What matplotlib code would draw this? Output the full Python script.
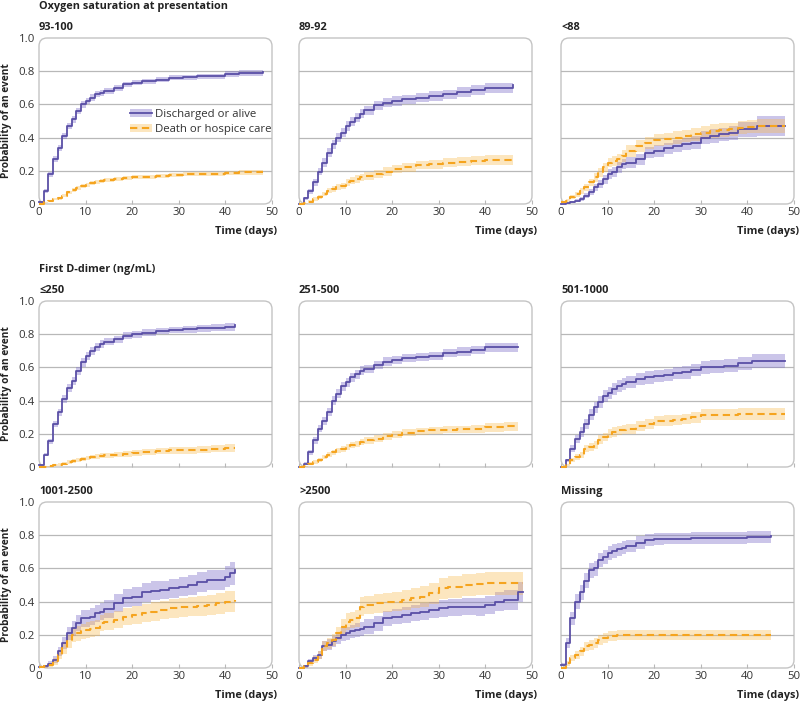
import matplotlib
matplotlib.use("Agg")
from matplotlib import pyplot as plt
from matplotlib.patches import FancyBboxPatch, Patch
from matplotlib.lines import Line2D

plt.rcParams['font.family'] = ['Open Sans', 'DejaVu Sans']

# Colours
PURPLE = "#5a4fa6"
PURPLE_BAND = "#7d70c9"
ORANGE = "#f5a41f"
ORANGE_BAND = "#f9b84a"
GRID = "#b8b8b8"
FRAME = "#c4c4c4"
TEXT = "#333333"
DARK = "#222222"

GROUP_TITLES = ["Oxygen saturation at presentation", "First D-dimer (ng/mL)"]
PANEL_TITLES = ["93-100", "89-92", "<88",
                "≤250", "251-500", "501-1000",
                "1001-2500", ">2500", "Missing"]
LEGEND_LABELS = ["Discharged or alive", "Death or hospice care"]
X_TICKS = [0, 10, 20, 30, 40, 50]
Y_TICKS = [0, 0.2, 0.4, 0.6, 0.8, 1.0]
Y_TICK_LABELS = ["0", "0.2", "0.4", "0.6", "0.8", "1.0"]

# ---- Oxygen 93-100
T_O2_HIGH = [0, 1, 2, 3, 4, 5, 6, 7, 8, 9, 10, 11, 12, 13, 14, 16, 18, 20, 22, 25, 28, 31, 34, 37, 40, 43, 48]
DIS_O2_HIGH = [0.01, 0.08, 0.18, 0.27, 0.34, 0.41, 0.47, 0.51, 0.56, 0.60, 0.62, 0.64, 0.66, 0.67, 0.68,
               0.70, 0.72, 0.73, 0.74, 0.75, 0.76, 0.765, 0.77, 0.77, 0.785, 0.79, 0.795]
DIS_O2_HIGH_CI = [0.005, 0.012, 0.015, 0.018, 0.018, 0.02, 0.02, 0.02, 0.02, 0.02, 0.02, 0.02, 0.018, 0.018, 0.018,
                  0.017, 0.016, 0.015, 0.015, 0.015, 0.015, 0.015, 0.015, 0.015, 0.017, 0.018, 0.018]
DEATH_O2_HIGH = [0, 0.01, 0.02, 0.03, 0.035, 0.05, 0.07, 0.085, 0.095, 0.11, 0.115, 0.125, 0.135, 0.14, 0.145,
                 0.152, 0.158, 0.16, 0.165, 0.17, 0.175, 0.178, 0.18, 0.182, 0.186, 0.19, 0.195]
DEATH_O2_HIGH_CI = [0, 0.005, 0.006, 0.008, 0.008, 0.01, 0.01, 0.01, 0.011, 0.011, 0.012, 0.012, 0.012, 0.012, 0.012,
                    0.012, 0.012, 0.012, 0.012, 0.012, 0.012, 0.012, 0.012, 0.012, 0.012, 0.013, 0.013]

# ---- Oxygen 89-92
T_O2_MID = [0, 1, 2, 3, 4, 5, 6, 7, 8, 9, 10, 11, 12, 13, 14, 16, 18, 20, 22, 25, 28, 31, 34, 37, 40, 43, 46]
DIS_O2_MID = [0, 0.035, 0.078, 0.13, 0.195, 0.25, 0.31, 0.36, 0.40, 0.43, 0.47, 0.495, 0.52, 0.545, 0.565,
              0.595, 0.61, 0.62, 0.63, 0.64, 0.65, 0.66, 0.675, 0.685, 0.70, 0.70, 0.715]
DIS_O2_MID_CI = [0, 0.01, 0.015, 0.02, 0.022, 0.025, 0.025, 0.027, 0.027, 0.028, 0.028, 0.028, 0.028, 0.028, 0.028,
                 0.028, 0.028, 0.028, 0.028, 0.028, 0.028, 0.028, 0.028, 0.03, 0.03, 0.03, 0.035]
DEATH_O2_MID = [0, 0.005, 0.015, 0.03, 0.045, 0.06, 0.08, 0.09, 0.10, 0.11, 0.13, 0.14, 0.15, 0.16, 0.17,
                0.18, 0.195, 0.21, 0.22, 0.235, 0.24, 0.25, 0.255, 0.26, 0.265, 0.265, 0.265]
DEATH_O2_MID_CI = [0, 0.004, 0.008, 0.01, 0.012, 0.014, 0.016, 0.017, 0.018, 0.019, 0.02, 0.021, 0.022, 0.022, 0.023,
                   0.024, 0.025, 0.025, 0.026, 0.027, 0.027, 0.028, 0.028, 0.028, 0.03, 0.03, 0.03]

# ---- Oxygen <88
T_O2_LOW = [0, 1, 2, 3, 4, 5, 6, 7, 8, 9, 10, 11, 12, 13, 14, 16, 18, 20, 22, 24, 26, 28, 30, 32, 34, 36, 38, 40, 42, 45, 48]
DIS_O2_LOW = [0, 0.005, 0.01, 0.02, 0.03, 0.05, 0.07, 0.10, 0.12, 0.15, 0.18, 0.19, 0.22, 0.24, 0.25,
              0.27, 0.31, 0.32, 0.335, 0.35, 0.36, 0.37, 0.40, 0.41, 0.42, 0.43, 0.45, 0.45, 0.47, 0.47, 0.47]
DIS_O2_LOW_CI = [0, 0.004, 0.006, 0.01, 0.012, 0.015, 0.018, 0.022, 0.025, 0.027, 0.03, 0.03, 0.032, 0.032, 0.033,
                 0.034, 0.035, 0.035, 0.035, 0.036, 0.037, 0.038, 0.039, 0.04, 0.04, 0.042, 0.045, 0.045, 0.06, 0.06, 0.06]
DEATH_O2_LOW = [0.01, 0.02, 0.04, 0.06, 0.08, 0.10, 0.13, 0.16, 0.19, 0.22, 0.25, 0.26, 0.27, 0.29, 0.32,
                0.35, 0.37, 0.385, 0.39, 0.40, 0.41, 0.42, 0.43, 0.44, 0.445, 0.45, 0.46, 0.465, 0.47, 0.47, 0.47]
DEATH_O2_LOW_CI = [0.005, 0.01, 0.012, 0.015, 0.018, 0.02, 0.022, 0.025, 0.027, 0.03, 0.03, 0.032, 0.033, 0.034, 0.035,
                   0.036, 0.036, 0.037, 0.037, 0.038, 0.038, 0.038, 0.039, 0.04, 0.04, 0.04, 0.04, 0.04, 0.04, 0.04, 0.04]

# ---- D-dimer <=250
T_DD_250 = [0, 1, 2, 3, 4, 5, 6, 7, 8, 9, 10, 11, 12, 13, 14, 16, 18, 20, 22, 25, 28, 31, 34, 37, 40, 42]
DIS_DD_250 = [0.01, 0.075, 0.155, 0.26, 0.33, 0.41, 0.475, 0.52, 0.58, 0.63, 0.67, 0.70, 0.72, 0.74, 0.755,
              0.77, 0.79, 0.80, 0.81, 0.82, 0.825, 0.83, 0.835, 0.84, 0.845, 0.855]
DIS_DD_250_CI = [0.005, 0.01, 0.015, 0.02, 0.022, 0.025, 0.025, 0.025, 0.025, 0.025, 0.025, 0.024, 0.024, 0.023, 0.022,
                 0.022, 0.021, 0.02, 0.02, 0.02, 0.02, 0.02, 0.02, 0.022, 0.025, 0.025]
DEATH_DD_250 = [0, 0.002, 0.005, 0.01, 0.015, 0.02, 0.03, 0.035, 0.045, 0.05, 0.055, 0.06, 0.065, 0.068, 0.07,
                0.075, 0.08, 0.085, 0.09, 0.095, 0.10, 0.10, 0.105, 0.11, 0.115, 0.115]
DEATH_DD_250_CI = [0, 0.003, 0.004, 0.006, 0.008, 0.009, 0.01, 0.011, 0.012, 0.013, 0.014, 0.014, 0.015, 0.015, 0.016,
                   0.016, 0.017, 0.017, 0.018, 0.018, 0.019, 0.019, 0.02, 0.02, 0.022, 0.022]

# ---- D-dimer 251-500
T_DD_500 = [0, 1, 2, 3, 4, 5, 6, 7, 8, 9, 10, 11, 12, 13, 14, 16, 18, 20, 22, 25, 28, 31, 34, 37, 40, 44, 47]
DIS_DD_500 = [0, 0.02, 0.09, 0.16, 0.23, 0.28, 0.33, 0.40, 0.44, 0.485, 0.51, 0.54, 0.56, 0.58, 0.59,
              0.615, 0.635, 0.645, 0.655, 0.665, 0.67, 0.685, 0.695, 0.705, 0.72, 0.72, 0.72]
DIS_DD_500_CI = [0, 0.008, 0.015, 0.02, 0.022, 0.024, 0.025, 0.026, 0.027, 0.027, 0.027, 0.027, 0.027, 0.026, 0.026,
                 0.025, 0.025, 0.024, 0.024, 0.024, 0.024, 0.024, 0.025, 0.026, 0.028, 0.03, 0.03]
DEATH_DD_500 = [0, 0.005, 0.02, 0.03, 0.045, 0.06, 0.075, 0.09, 0.10, 0.11, 0.12, 0.13, 0.14, 0.15, 0.16,
                0.17, 0.185, 0.195, 0.205, 0.215, 0.22, 0.225, 0.228, 0.23, 0.238, 0.245, 0.248]
DEATH_DD_500_CI = [0, 0.003, 0.008, 0.01, 0.012, 0.013, 0.014, 0.015, 0.016, 0.017, 0.018, 0.018, 0.019, 0.019, 0.02,
                   0.02, 0.021, 0.021, 0.021, 0.022, 0.022, 0.022, 0.022, 0.023, 0.025, 0.027, 0.027]

# ---- D-dimer 501-1000
T_DD_1000 = [0, 1, 2, 3, 4, 5, 6, 7, 8, 9, 10, 11, 12, 13, 14, 16, 18, 20, 22, 24, 26, 28, 30, 32, 35, 38, 41, 44, 48]
DIS_DD_1000 = [0, 0.04, 0.11, 0.17, 0.21, 0.26, 0.315, 0.36, 0.39, 0.43, 0.445, 0.47, 0.49, 0.50, 0.51,
               0.53, 0.54, 0.55, 0.555, 0.565, 0.57, 0.585, 0.60, 0.605, 0.61, 0.625, 0.64, 0.64, 0.64]
DIS_DD_1000_CI = [0, 0.01, 0.02, 0.025, 0.028, 0.03, 0.032, 0.034, 0.035, 0.036, 0.036, 0.037, 0.037, 0.037, 0.037,
                  0.037, 0.037, 0.037, 0.037, 0.037, 0.037, 0.037, 0.037, 0.038, 0.038, 0.04, 0.042, 0.042, 0.042]
DEATH_DD_1000 = [0, 0.015, 0.04, 0.06, 0.075, 0.11, 0.12, 0.135, 0.165, 0.18, 0.20, 0.21, 0.22, 0.225, 0.23,
                 0.245, 0.26, 0.275, 0.28, 0.285, 0.29, 0.30, 0.315, 0.315, 0.315, 0.32, 0.32, 0.32, 0.32]
DEATH_DD_1000_CI = [0, 0.006, 0.012, 0.016, 0.018, 0.02, 0.022, 0.024, 0.025, 0.026, 0.027, 0.028, 0.028, 0.029, 0.029,
                    0.03, 0.03, 0.03, 0.031, 0.031, 0.031, 0.032, 0.032, 0.032, 0.033, 0.034, 0.035, 0.035, 0.035]

# ---- D-dimer 1001-2500
T_DD_2500 = [0, 1, 2, 3, 4, 5, 6, 7, 8, 9, 10, 11, 12, 13, 14, 16, 18, 20, 22, 24, 26, 28, 30, 32, 34, 36, 38, 40, 41, 42]
DIS_DD_2500 = [0.005, 0.01, 0.025, 0.05, 0.10, 0.15, 0.21, 0.24, 0.27, 0.30, 0.30, 0.31, 0.33, 0.34, 0.355,
               0.39, 0.42, 0.43, 0.455, 0.465, 0.47, 0.48, 0.49, 0.50, 0.52, 0.53, 0.53, 0.55, 0.57, 0.59]
DIS_DD_2500_CI = [0.004, 0.008, 0.015, 0.02, 0.028, 0.035, 0.04, 0.045, 0.048, 0.05, 0.05, 0.05, 0.051, 0.052, 0.053,
                  0.054, 0.055, 0.055, 0.056, 0.057, 0.057, 0.058, 0.058, 0.059, 0.06, 0.062, 0.063, 0.065, 0.068, 0.07]
DEATH_DD_2500 = [0.005, 0.01, 0.02, 0.04, 0.08, 0.12, 0.16, 0.20, 0.21, 0.22, 0.23, 0.235, 0.24, 0.27, 0.28,
                 0.29, 0.31, 0.32, 0.33, 0.34, 0.35, 0.36, 0.365, 0.37, 0.375, 0.38, 0.39, 0.40, 0.40, 0.41]
DEATH_DD_2500_CI = [0.004, 0.008, 0.012, 0.02, 0.028, 0.035, 0.04, 0.045, 0.046, 0.047, 0.048, 0.048, 0.049, 0.05, 0.05,
                    0.051, 0.052, 0.053, 0.054, 0.055, 0.056, 0.057, 0.058, 0.059, 0.06, 0.061, 0.062, 0.064, 0.065, 0.066]

# ---- D-dimer >2500
T_DD_HIGH = [0, 1, 2, 3, 4, 5, 6, 7, 8, 9, 10, 11, 12, 13, 14, 16, 18, 20, 22, 24, 26, 28, 30, 32, 35, 38, 40, 42, 44, 47, 48]
DIS_DD_HIGH = [0, 0.01, 0.04, 0.06, 0.08, 0.13, 0.14, 0.16, 0.18, 0.20, 0.21, 0.22, 0.23, 0.235, 0.25,
               0.27, 0.30, 0.31, 0.32, 0.33, 0.34, 0.35, 0.36, 0.365, 0.37, 0.37, 0.38, 0.40, 0.41, 0.46, 0.46]
DIS_DD_HIGH_CI = [0, 0.008, 0.015, 0.02, 0.025, 0.03, 0.032, 0.034, 0.036, 0.038, 0.04, 0.04, 0.041, 0.042, 0.043,
                  0.045, 0.046, 0.047, 0.048, 0.049, 0.05, 0.05, 0.051, 0.052, 0.053, 0.054, 0.055, 0.056, 0.058, 0.06, 0.06]
DEATH_DD_HIGH = [0, 0.01, 0.03, 0.05, 0.08, 0.13, 0.15, 0.17, 0.21, 0.25, 0.28, 0.29, 0.30, 0.37, 0.38,
                 0.39, 0.395, 0.40, 0.41, 0.42, 0.43, 0.45, 0.48, 0.49, 0.50, 0.505, 0.51, 0.51, 0.51, 0.51, 0.51]
DEATH_DD_HIGH_CI = [0, 0.008, 0.015, 0.02, 0.025, 0.03, 0.033, 0.036, 0.04, 0.045, 0.05, 0.05, 0.052, 0.055, 0.056,
                    0.057, 0.058, 0.058, 0.06, 0.06, 0.062, 0.063, 0.065, 0.066, 0.067, 0.068, 0.07, 0.07, 0.07, 0.07, 0.07]

# ---- D-dimer missing
T_DD_MISS = [0, 1, 2, 3, 4, 5, 6, 7, 8, 9, 10, 11, 12, 13, 14, 16, 18, 20, 22, 25, 28, 31, 34, 37, 40, 43, 45]
DIS_DD_MISS = [0.02, 0.15, 0.30, 0.40, 0.455, 0.525, 0.59, 0.60, 0.65, 0.67, 0.69, 0.705, 0.715, 0.725, 0.735,
               0.755, 0.77, 0.775, 0.78, 0.78, 0.785, 0.785, 0.785, 0.785, 0.79, 0.79, 0.795]
DIS_DD_MISS_CI = [0.01, 0.03, 0.04, 0.045, 0.045, 0.045, 0.045, 0.045, 0.044, 0.043, 0.042, 0.041, 0.04, 0.04, 0.039,
                  0.038, 0.037, 0.036, 0.035, 0.035, 0.035, 0.035, 0.035, 0.035, 0.035, 0.036, 0.036]
DEATH_DD_MISS = [0, 0.03, 0.06, 0.08, 0.10, 0.13, 0.14, 0.15, 0.17, 0.18, 0.19, 0.195, 0.20, 0.20, 0.20,
                 0.20, 0.20, 0.20, 0.20, 0.20, 0.20, 0.20, 0.20, 0.20, 0.20, 0.20, 0.20]
DEATH_DD_MISS_CI = [0, 0.015, 0.02, 0.025, 0.027, 0.028, 0.03, 0.03, 0.03, 0.03, 0.03, 0.03, 0.03, 0.03, 0.03,
                    0.03, 0.03, 0.03, 0.03, 0.03, 0.03, 0.03, 0.03, 0.03, 0.03, 0.03, 0.03]

PANEL_DATA = [
    (T_O2_HIGH, DIS_O2_HIGH, DIS_O2_HIGH_CI, DEATH_O2_HIGH, DEATH_O2_HIGH_CI),
    (T_O2_MID, DIS_O2_MID, DIS_O2_MID_CI, DEATH_O2_MID, DEATH_O2_MID_CI),
    (T_O2_LOW, DIS_O2_LOW, DIS_O2_LOW_CI, DEATH_O2_LOW, DEATH_O2_LOW_CI),
    (T_DD_250, DIS_DD_250, DIS_DD_250_CI, DEATH_DD_250, DEATH_DD_250_CI),
    (T_DD_500, DIS_DD_500, DIS_DD_500_CI, DEATH_DD_500, DEATH_DD_500_CI),
    (T_DD_1000, DIS_DD_1000, DIS_DD_1000_CI, DEATH_DD_1000, DEATH_DD_1000_CI),
    (T_DD_2500, DIS_DD_2500, DIS_DD_2500_CI, DEATH_DD_2500, DEATH_DD_2500_CI),
    (T_DD_HIGH, DIS_DD_HIGH, DIS_DD_HIGH_CI, DEATH_DD_HIGH, DEATH_DD_HIGH_CI),
    (T_DD_MISS, DIS_DD_MISS, DIS_DD_MISS_CI, DEATH_DD_MISS, DEATH_DD_MISS_CI),
]

# Layout in pixels (figure is 800 x 702)
W, H = 800, 702
COL_LEFT = [39, 299, 561]
COL_WIDTH = 233
ROW_TOP = [38, 301, 502]
ROW_HEIGHT = 166

TICK_SIZE = 8.2
LABEL_SIZE = 7.6
DASH = (0, (3.5, 2.2))


def draw_band(ax, t, vals, ci, band_colour, alpha):
    lo = [max(v - c, 0) for v, c in zip(vals, ci)]
    hi = [v + c for v, c in zip(vals, ci)]
    ax.fill_between(t, lo, hi, step="post", color=band_colour, alpha=alpha, lw=0, zorder=2)


def do_panel(ax, idx):
    t, dis, dis_ci, death, death_ci = PANEL_DATA[idx]
    row, col = divmod(idx, 3)

    ax.set_xlim(0, 50)
    ax.set_ylim(0, 1.0)
    for s in ax.spines.values():
        s.set_visible(False)

    frame = FancyBboxPatch((0, 0), 1, 1, boxstyle="round,pad=0,rounding_size=0.035",
                           transform=ax.transAxes, mutation_aspect=COL_WIDTH / ROW_HEIGHT,
                           fill=False, ec=FRAME, lw=1.0, clip_on=False, zorder=1)
    ax.add_patch(frame)
    for y in Y_TICKS[1:-1]:
        ax.axhline(y, color=GRID, lw=0.9, zorder=1)

    draw_band(ax, t, dis, dis_ci, PURPLE_BAND, 0.4)
    draw_band(ax, t, death, death_ci, ORANGE_BAND, 0.35)
    ax.step(t, dis, where="post", color=PURPLE, lw=1.3, zorder=4, clip_on=False)
    ax.step(t, death, where="post", color=ORANGE, lw=1.5, ls=DASH, zorder=4, clip_on=False)

    ax.set_xticks(X_TICKS)
    ax.tick_params(axis="x", direction="in", length=3, color=GRID, labelsize=TICK_SIZE,
                   labelcolor=TEXT, pad=2)
    if row == 1:
        ax.set_xticklabels([])
    else:
        ax.text(1.02, -0.163, "Time (days)", transform=ax.transAxes, ha="right", va="center",
                fontsize=LABEL_SIZE + 0.2, fontweight="bold", color=DARK)

    ax.set_yticks(Y_TICKS)
    ax.tick_params(axis="y", length=0, labelsize=TICK_SIZE, labelcolor=TEXT, pad=3)
    if col == 0:
        ax.set_yticklabels(Y_TICK_LABELS)
        ax.set_ylabel("Probability of an event", fontsize=LABEL_SIZE - 0.3, fontweight="bold",
                      color=DARK, labelpad=5)
    else:
        ax.set_yticklabels([])

    ax.text(0, 1.03, PANEL_TITLES[idx], transform=ax.transAxes, ha="left", va="bottom",
            fontsize=LABEL_SIZE + 0.3, fontweight="bold", color=DARK)

    if idx == 0:
        handles = [(Patch(color=PURPLE_BAND, alpha=0.4, lw=0), Line2D([], [], color=PURPLE, lw=1.3)),
                   (Patch(color=ORANGE_BAND, alpha=0.35, lw=0), Line2D([], [], color=ORANGE, lw=1.5, ls=DASH))]
        ax.legend(handles, LEGEND_LABELS, loc="center left", bbox_to_anchor=(0.39, 0.495),
                  frameon=False, fontsize=TICK_SIZE, handlelength=1.9, handletextpad=0.3,
                  labelspacing=0.3, labelcolor=TEXT, borderaxespad=0, borderpad=0)


def main() -> None:
    fig = plt.figure(figsize=(W / 100, H / 100), dpi=100)
    for idx in range(9):
        row, col = divmod(idx, 3)
        rect = [COL_LEFT[col] / W, 1 - (ROW_TOP[row] + ROW_HEIGHT) / H, COL_WIDTH / W, ROW_HEIGHT / H]
        ax = fig.add_axes(rect)
        do_panel(ax, idx)

    fig.text(39 / W, 1 - 7 / H, GROUP_TITLES[0], ha="left", va="center", fontsize=LABEL_SIZE + 0.2,
             fontweight="bold", color=DARK)
    fig.text(39 / W, 1 - 269 / H, GROUP_TITLES[1], ha="left", va="center", fontsize=LABEL_SIZE + 0.2,
             fontweight="bold", color=DARK)
    fig.savefig("out.png", dpi=100)


if __name__ == "__main__":
    main()
